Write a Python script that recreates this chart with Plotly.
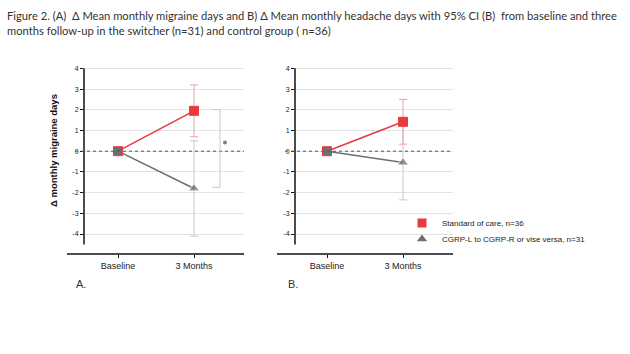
import plotly.graph_objects as go

W, H = 630, 354
def fx(p): return p / W
def fy(p): return 1 - p / H

# ---- data ----
categories = ["Baseline", "3 Months"]
x_pos = [0, 1]
soc_A = [0, 1.95]
soc_A_ci = [0, 1.25]
sw_A = [0, -1.8]
sw_A_ci = [0, 2.3]
soc_B = [0, 1.42]
soc_B_ci = [0, 1.08]
sw_B = [0, -0.55]
sw_B_ci = [0, 1.8]
y_ticks = [-4, -3, -2, -1, 0, 1, 2, 3, 4]
y_tick_labels = ["-4", "-3", "-2", "-1", "0", "1", "2", "3", "4"]
sig_bracket_A = [2.0, -1.75]
sig_star_A = 0.42

RED = "#e8393f"
GREY = "#6e6e6e"
RED_L = "#eaa3a3"
GREY_L = "#c9c9c9"
FONT = "Liberation Sans"

fig = go.Figure()

def add_panel(xa, ya, soc, soc_ci, sw, sw_ci):
    fig.add_trace(go.Scatter(
        x=x_pos, y=sw, xaxis=xa, yaxis=ya, mode="lines+markers",
        line=dict(color=GREY, width=1.5),
        marker=dict(symbol=["square", "triangle-up"], size=[8, 10], color=GREY),
        error_y=dict(type="data", array=sw_ci, color=GREY_L, thickness=1, width=4),
        showlegend=False, hoverinfo="skip"))
    fig.add_trace(go.Scatter(
        x=x_pos, y=soc, xaxis=xa, yaxis=ya, mode="lines+markers",
        line=dict(color=RED, width=1.5),
        marker=dict(symbol="square", size=9, color=[GREY, RED],
                    line=dict(color=RED, width=1)),
        error_y=dict(type="data", array=soc_ci, color=RED_L, thickness=1, width=4),
        showlegend=False, hoverinfo="skip"))

add_panel("x", "y", soc_A, soc_A_ci, sw_A, sw_A_ci)
add_panel("x2", "y2", soc_B, soc_B_ci, sw_B, sw_B_ci)

# legend entries (two separate legends for exact spacing)
fig.add_trace(go.Scatter(x=[None], y=[None], xaxis="x2", yaxis="y2", mode="markers",
                         marker=dict(symbol="square", size=9, color=RED),
                         name="Standard of care, n=36", legend="legend"))
fig.add_trace(go.Scatter(x=[None], y=[None], xaxis="x2", yaxis="y2", mode="markers",
                         marker=dict(symbol="triangle-up", size=9, color=GREY),
                         name="CGRP-L to CGRP-R or vise versa, n=31", legend="legend2"))

# significance star marker
fig.add_trace(go.Scatter(x=[1.408], y=[sig_star_A], xaxis="x", yaxis="y", mode="markers",
                         marker=dict(symbol="circle", size=4, color="#808080"),
                         showlegend=False, hoverinfo="skip"))

ydom = [fy(254), fy(66)]
yrange = [(151.2 - 254) / 20.71, (151.2 - 66) / 20.71]

def xax(dom, rng):
    return dict(domain=dom, range=rng, tickvals=x_pos, ticktext=categories,
                showgrid=False, zeroline=False, showline=False,
                ticks="outside", ticklen=3, tickwidth=1.2, tickcolor="#111",
                tickfont=dict(family=FONT, size=9, color="#222"), fixedrange=True)

def yax(anchor):
    return dict(domain=ydom, range=yrange, anchor=anchor, tickvals=y_ticks,
                ticktext=y_tick_labels, showgrid=True, gridcolor="#e3e3e3", gridwidth=1,
                zeroline=False, showline=False, ticks="outside", ticklen=3,
                tickwidth=1.2, tickcolor="#111",
                tickfont=dict(family=FONT, size=7, color="#222"), fixedrange=True)

leg_common = dict(xanchor="left", yanchor="middle",
                  font=dict(family=FONT, size=8, color="#222"), bgcolor="rgba(0,0,0,0)",
                  itemwidth=30)

fig.update_layout(
    width=W, height=H, margin=dict(l=0, r=0, t=0, b=0),
    paper_bgcolor="white", plot_bgcolor="white",
    xaxis=xax([fx(84), fx(244)], [(84 - 118) / 76, (244 - 118) / 76]) | dict(anchor="y"),
    yaxis=yax("x"),
    xaxis2=xax([fx(295), fx(453)], [(295 - 327) / 76, (453 - 327) / 76]) | dict(anchor="y2"),
    yaxis2=yax("x2"),
    legend=dict(leg_common, x=fx(402), y=fy(223)),
    legend2=dict(leg_common, x=fx(402), y=fy(239)),
)

shapes = []
for xa, ya, left_px, dom in [("x", "y", 67, [84, 244]), ("x2", "y2", 277, [295, 453])]:
    shapes.append(dict(type="line", xref="paper", yref="paper", x0=fx(left_px), x1=fx(dom[1]),
                       y0=fy(254), y1=fy(254), line=dict(color="#111", width=1.5)))
    shapes.append(dict(type="line", xref="paper", yref=ya, x0=fx(dom[0]), x1=fx(dom[0]),
                       y0=-4.5, y1=4.0, line=dict(color="#111", width=1.5)))
    shapes.append(dict(type="line", xref="paper", yref=ya, x0=fx(left_px + 8), x1=fx(dom[1]),
                       y0=0, y1=0, line=dict(color="#555", width=1, dash="dot")))
shapes.append(dict(type="path", xref="x", yref="y",
                   path=f"M 1.237 {sig_bracket_A[0]} L 1.342 {sig_bracket_A[0]} L 1.342 {sig_bracket_A[1]} L 1.237 {sig_bracket_A[1]}",
                   line=dict(color=GREY_L, width=1)))
fig.update_layout(shapes=shapes)

ann = [
    dict(text="Figure 2. (A)  Δ Mean monthly migraine days and B) Δ Mean monthly headache days with 95% CI (B)  from baseline and three",
         x=fx(5), y=fy(7), xanchor="left", yanchor="top"),
    dict(text="months follow-up in the switcher (n=31) and control group ( n=36)",
         x=fx(5), y=fy(22), xanchor="left", yanchor="top"),
]
annotations = [dict(a, xref="paper", yref="paper", showarrow=False,
                    font=dict(family="Lato", size=11.2, color="#333")) for a in ann]
annotations.append(dict(text="<b>Δ monthly migraine days</b>", xref="paper", yref="paper",
                        x=fx(53), y=fy(151), xanchor="center", yanchor="middle",
                        textangle=-90, showarrow=False,
                        font=dict(family=FONT, size=9.5, color="#111")))
annotations.append(dict(text="A.", xref="paper", yref="paper", x=fx(74), y=fy(284),
                        xanchor="left", yanchor="middle", showarrow=False,
                        font=dict(family=FONT, size=11, color="#333")))
annotations.append(dict(text="B.", xref="paper", yref="paper", x=fx(286), y=fy(284),
                        xanchor="left", yanchor="middle", showarrow=False,
                        font=dict(family=FONT, size=11, color="#333")))
fig.update_layout(annotations=annotations)

fig.write_html("out.html")
